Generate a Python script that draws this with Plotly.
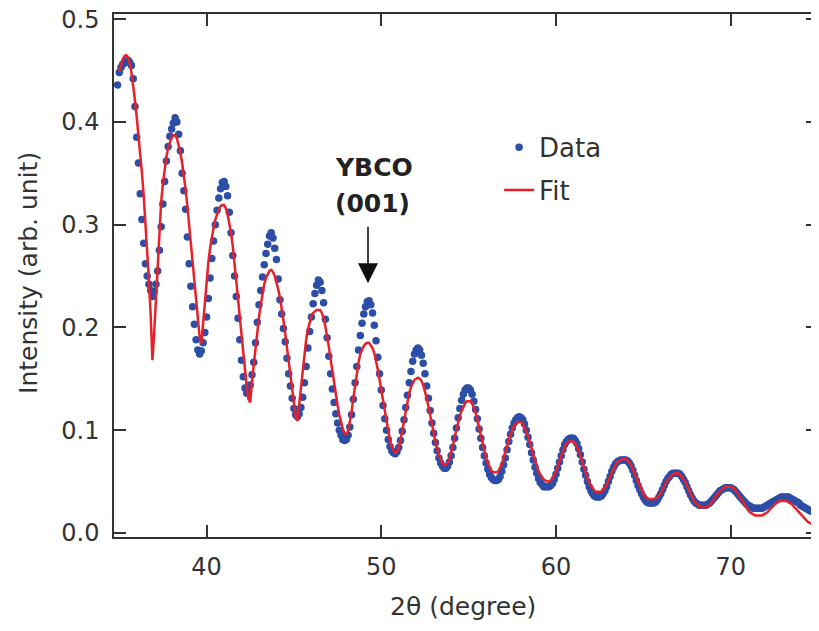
import plotly.graph_objects as go

# 2-theta scan grid (degrees)
data_x_start, data_step = 34.9, 0.1
data_y = [
    0.436, 0.448, 0.453, 0.456, 0.457, 0.459, 0.460, 0.458, 0.455, 0.442,  # 34.9-35.8
    0.415, 0.385, 0.360, 0.330, 0.305, 0.282, 0.262, 0.250, 0.242, 0.236,  # 35.9-36.8
    0.230, 0.235, 0.242, 0.255, 0.275, 0.298, 0.320, 0.342, 0.362, 0.376,  # 36.9-37.8
    0.386, 0.393, 0.399, 0.404, 0.400, 0.388, 0.372, 0.350, 0.333, 0.315,  # 37.9-38.8
    0.288, 0.262, 0.240, 0.220, 0.203, 0.188, 0.178, 0.174, 0.177, 0.185,  # 38.9-39.8
    0.195, 0.210, 0.228, 0.248, 0.267, 0.284, 0.300, 0.314, 0.326, 0.335,  # 39.9-40.8
    0.341, 0.342, 0.337, 0.328, 0.312, 0.292, 0.270, 0.250, 0.230, 0.209,  # 40.9-41.8
    0.188, 0.168, 0.152, 0.141, 0.136, 0.138, 0.144, 0.154, 0.166, 0.185,  # 41.9-42.8
    0.205, 0.222, 0.236, 0.249, 0.261, 0.272, 0.281, 0.289, 0.292, 0.287,  # 42.9-43.8
    0.277, 0.266, 0.247, 0.227, 0.213, 0.199, 0.186, 0.170, 0.155, 0.143,  # 43.9-44.8
    0.131, 0.121, 0.115, 0.113, 0.116, 0.122, 0.132, 0.146, 0.162, 0.180,  # 44.9-45.8
    0.196, 0.210, 0.223, 0.233, 0.241, 0.246, 0.244, 0.236, 0.224, 0.208,  # 45.9-46.8
    0.190, 0.172, 0.155, 0.140, 0.127, 0.116, 0.107, 0.100, 0.095, 0.091,  # 46.9-47.8
    0.090, 0.091, 0.095, 0.103, 0.115, 0.130, 0.146, 0.162, 0.178, 0.192,  # 47.9-48.8
    0.204, 0.213, 0.220, 0.225, 0.226, 0.222, 0.214, 0.202, 0.187, 0.171,  # 48.9-49.8
    0.155, 0.139, 0.124, 0.111, 0.100, 0.091, 0.084, 0.080, 0.078, 0.077,  # 49.9-50.8
    0.079, 0.083, 0.090, 0.099, 0.110, 0.122, 0.134, 0.146, 0.157, 0.167,  # 50.9-51.8
    0.174, 0.178, 0.180, 0.178, 0.173, 0.165, 0.155, 0.143, 0.131, 0.119,  # 51.9-52.8
    0.107, 0.097, 0.088, 0.080, 0.073, 0.068, 0.065, 0.063, 0.063, 0.065,  # 52.9-53.8
    0.069, 0.075, 0.083, 0.092, 0.102, 0.112, 0.121, 0.129, 0.135, 0.139,  # 53.9-54.8
    0.141, 0.141, 0.139, 0.135, 0.128, 0.120, 0.111, 0.101, 0.092, 0.083,  # 54.9-55.8
    0.075, 0.068, 0.062, 0.057, 0.054, 0.052, 0.051, 0.051, 0.052, 0.055,  # 55.9-56.8
    0.060, 0.066, 0.073, 0.081, 0.089, 0.096, 0.102, 0.107, 0.110, 0.112,  # 56.9-57.8
    0.113, 0.112, 0.110, 0.106, 0.100, 0.093, 0.086, 0.078, 0.071, 0.064,  # 57.9-58.8
    0.058, 0.053, 0.049, 0.047, 0.045, 0.045, 0.045, 0.045, 0.046, 0.048,  # 58.9-59.8
    0.052, 0.057, 0.063, 0.069, 0.075, 0.081, 0.086, 0.089, 0.091, 0.092,  # 59.9-60.8
    0.092, 0.092, 0.090, 0.087, 0.082, 0.076, 0.069, 0.062, 0.056, 0.050,  # 60.9-61.8
    0.045, 0.041, 0.038, 0.036, 0.035, 0.035, 0.035, 0.036, 0.038, 0.041,  # 61.9-62.8
    0.045, 0.050, 0.055, 0.060, 0.064, 0.067, 0.069, 0.070, 0.071, 0.071,  # 62.9-63.8
    0.071, 0.071, 0.070, 0.068, 0.065, 0.061, 0.056, 0.051, 0.046, 0.042,  # 63.9-64.8
    0.038, 0.035, 0.032, 0.030, 0.029, 0.029, 0.029, 0.029, 0.030, 0.032,  # 64.9-65.8
    0.035, 0.038, 0.042, 0.046, 0.050, 0.053, 0.055, 0.057, 0.058, 0.058,  # 65.9-66.8
    0.058, 0.058, 0.057, 0.055, 0.052, 0.049, 0.045, 0.041, 0.037, 0.034,  # 66.9-67.8
    0.031, 0.029, 0.028, 0.027, 0.027, 0.027, 0.027, 0.027, 0.028, 0.029,  # 67.9-68.8
    0.031, 0.033, 0.035, 0.037, 0.039, 0.041, 0.042, 0.043, 0.044, 0.044,  # 68.9-69.8
    0.044, 0.044, 0.043, 0.042, 0.040, 0.038, 0.036, 0.034, 0.032, 0.030,  # 69.9-70.8
    0.028, 0.027, 0.026, 0.025, 0.024, 0.024, 0.024, 0.024, 0.024, 0.024,  # 70.9-71.8
    0.025, 0.026, 0.027, 0.028, 0.029, 0.030, 0.031, 0.032, 0.033, 0.034,  # 71.9-72.8
    0.035, 0.035, 0.035, 0.035, 0.035, 0.034, 0.033, 0.032, 0.031, 0.030,  # 72.9-73.8
    0.029, 0.027, 0.026, 0.025, 0.024, 0.023, 0.022, 0.021, 0.021, 0.020,  # 73.9-74.8
    0.020, 0.020,                                                          # 74.9-75.0
]

fit_x_start, fit_step = 35.0, 0.1
fit_y = [
    0.449, 0.456, 0.461, 0.464, 0.465, 0.463, 0.457, 0.448, 0.436, 0.421,  # 35.0-35.9
    0.405, 0.388, 0.370, 0.350, 0.328, 0.303, 0.276, 0.246, 0.212, 0.168,  # 36.0-36.9
    0.195, 0.226, 0.262, 0.298, 0.322, 0.340, 0.354, 0.366, 0.375, 0.381,  # 37.0-37.9
    0.385, 0.387, 0.387, 0.384, 0.378, 0.370, 0.360, 0.348, 0.334, 0.318,  # 38.0-38.9
    0.300, 0.281, 0.262, 0.243, 0.224, 0.206, 0.191, 0.184, 0.205, 0.226,  # 39.0-39.9
    0.246, 0.263, 0.277, 0.288, 0.297, 0.305, 0.311, 0.315, 0.318, 0.319,  # 40.0-40.9
    0.319, 0.316, 0.310, 0.302, 0.292, 0.279, 0.264, 0.247, 0.228, 0.210,  # 41.0-41.9
    0.192, 0.175, 0.158, 0.142, 0.130, 0.127, 0.148, 0.165, 0.180, 0.194,  # 42.0-42.9
    0.210, 0.222, 0.233, 0.242, 0.248, 0.252, 0.255, 0.256, 0.254, 0.250,  # 43.0-43.9
    0.244, 0.237, 0.229, 0.219, 0.207, 0.194, 0.180, 0.166, 0.152, 0.138,  # 44.0-44.9
    0.125, 0.113, 0.109, 0.125, 0.143, 0.160, 0.175, 0.188, 0.198, 0.206,  # 45.0-45.9
    0.211, 0.214, 0.216, 0.217, 0.217, 0.217, 0.214, 0.209, 0.201, 0.192,  # 46.0-46.9
    0.181, 0.169, 0.157, 0.145, 0.134, 0.124, 0.115, 0.107, 0.101, 0.097,  # 47.0-47.9
    0.096, 0.099, 0.107, 0.118, 0.131, 0.144, 0.156, 0.166, 0.174, 0.179,  # 48.0-48.9
    0.182, 0.184, 0.185, 0.185, 0.183, 0.180, 0.175, 0.168, 0.159, 0.149,  # 49.0-49.9
    0.139, 0.128, 0.117, 0.107, 0.098, 0.090, 0.084, 0.080, 0.078, 0.079,  # 50.0-50.9
    0.083, 0.090, 0.099, 0.109, 0.119, 0.128, 0.136, 0.142, 0.146, 0.149,  # 51.0-51.9
    0.150, 0.151, 0.150, 0.148, 0.144, 0.138, 0.131, 0.123, 0.114, 0.105,  # 52.0-52.9
    0.097, 0.089, 0.082, 0.076, 0.071, 0.068, 0.066, 0.066, 0.068, 0.072,  # 53.0-53.9
    0.078, 0.085, 0.093, 0.101, 0.108, 0.114, 0.119, 0.123, 0.126, 0.128,  # 54.0-54.9
    0.128, 0.128, 0.126, 0.122, 0.117, 0.110, 0.102, 0.094, 0.086, 0.079,  # 55.0-55.9
    0.073, 0.068, 0.064, 0.061, 0.059, 0.059, 0.059, 0.060, 0.063, 0.067,  # 56.0-56.9
    0.073, 0.079, 0.085, 0.091, 0.096, 0.100, 0.104, 0.106, 0.108, 0.108,  # 57.0-57.9
    0.108, 0.106, 0.103, 0.099, 0.094, 0.088, 0.082, 0.076, 0.070, 0.065,  # 58.0-58.9
    0.060, 0.057, 0.054, 0.052, 0.051, 0.050, 0.050, 0.051, 0.053, 0.056,  # 59.0-59.9
    0.060, 0.065, 0.070, 0.075, 0.080, 0.084, 0.087, 0.089, 0.089, 0.089,  # 60.0-60.9
    0.089, 0.087, 0.084, 0.080, 0.075, 0.069, 0.063, 0.058, 0.053, 0.049,  # 61.0-61.9
    0.046, 0.043, 0.041, 0.040, 0.040, 0.040, 0.040, 0.042, 0.044, 0.047,  # 62.0-62.9
    0.051, 0.055, 0.059, 0.063, 0.066, 0.069, 0.070, 0.071, 0.072, 0.072,  # 63.0-63.9
    0.072, 0.071, 0.069, 0.066, 0.062, 0.058, 0.053, 0.049, 0.045, 0.041,  # 64.0-64.9
    0.038, 0.036, 0.034, 0.033, 0.033, 0.033, 0.033, 0.033, 0.034, 0.036,  # 65.0-65.9
    0.039, 0.042, 0.046, 0.049, 0.052, 0.054, 0.056, 0.057, 0.058, 0.058,  # 66.0-66.9
    0.058, 0.057, 0.055, 0.053, 0.050, 0.046, 0.042, 0.038, 0.034, 0.031,  # 67.0-67.9
    0.029, 0.027, 0.026, 0.025, 0.025, 0.025, 0.025, 0.026, 0.027, 0.029,  # 68.0-68.9
    0.031, 0.034, 0.037, 0.039, 0.041, 0.043, 0.044, 0.045, 0.045, 0.045,  # 69.0-69.9
    0.045, 0.044, 0.043, 0.041, 0.039, 0.036, 0.033, 0.030, 0.027, 0.024,  # 70.0-70.9
    0.022, 0.020, 0.019, 0.018, 0.017, 0.017, 0.017, 0.017, 0.017, 0.018,  # 71.0-71.9
    0.019, 0.020, 0.022, 0.024, 0.026, 0.027, 0.029, 0.030, 0.031, 0.031,  # 72.0-72.9
    0.031, 0.031, 0.031, 0.030, 0.029, 0.028, 0.026, 0.024, 0.022, 0.020,  # 73.0-73.9
    0.018, 0.016, 0.014, 0.013, 0.011, 0.010, 0.009, 0.008, 0.008, 0.007,  # 74.0-74.9
    0.007,                                                                 # 75.0
]

data_x = [round(data_x_start + i * data_step, 2) for i in range(len(data_y))]
fit_x = [round(fit_x_start + i * fit_step, 2) for i in range(len(fit_y))]

x_ticks = [40, 50, 60, 70]
y_ticks = [0.0, 0.1, 0.2, 0.3, 0.4, 0.5]
y_tick_text = ["0.0", "0.1", "0.2", "0.3", "0.4", "0.5"]

BLUE = "#2C4EA6"
RED = "#E8202A"
AX = "#333333"
FONT = "DejaVu Sans, Verdana, sans-serif"

fig = go.Figure()
fig.add_trace(go.Scatter(
    x=data_x, y=data_y, mode="markers", name="Data", legendgroup="a",
    marker=dict(color=BLUE, size=7.5, line=dict(width=0)),
))
fig.add_trace(go.Scatter(
    x=fit_x, y=fit_y, mode="lines", name="Fit", legendgroup="b",
    line=dict(color=RED, width=2.5),
))

axis_common = dict(
    showline=True, linecolor=AX, linewidth=1.5, mirror="ticks",
    ticks="inside", ticklen=12, tickwidth=1.5, tickcolor=AX,
    showgrid=False, zeroline=False, automargin=False,
    ticklabeloverflow="allow",
    tickfont=dict(family=FONT, size=24, color=AX),
)

fig.update_layout(
    width=811, height=623,
    margin=dict(l=106, r=1, t=6, b=94),
    paper_bgcolor="white", plot_bgcolor="white",
    font=dict(family=FONT, color=AX),
    xaxis=dict(range=[34.7, 75.0], tickvals=x_ticks, ticklabelstandoff=7, **axis_common),
    yaxis=dict(range=[-0.004, 0.505], tickvals=y_ticks, ticktext=y_tick_text,
               ticklabelstandoff=8, **axis_common),
    legend=dict(x=0.547, y=0.79, xanchor="left", yanchor="top", tracegroupgap=6,
                font=dict(family=FONT, size=26, color=AX), bgcolor="rgba(0,0,0,0)",
                itemwidth=30),
    showlegend=True,
)

# axis titles
fig.add_annotation(x=0.496, y=-0.132, xref="paper", yref="paper", showarrow=False,
                   text="2θ (degree)", xanchor="center", yanchor="middle",
                   font=dict(family=FONT, size=25, color=AX))
fig.add_annotation(x=-0.1207, y=0.505, xref="paper", yref="paper", showarrow=False,
                   text="Intensity (arb. unit)", textangle=-90, xanchor="center", yanchor="middle",
                   font=dict(family=FONT, size=25, color=AX))

# YBCO (001) label and arrow
fig.add_annotation(
    x=49.24, y=0.243, xref="x", yref="y", ax=0, ay=-58, axref="pixel", ayref="pixel",
    showarrow=True, arrowhead=2, arrowsize=2.5, arrowwidth=1.6, arrowcolor="#111111", text="",
)
fig.add_annotation(x=47.24, y=0.356, xref="x", yref="y", showarrow=False, text="<b>YBCO</b>",
                   xanchor="left", yanchor="middle", font=dict(family=FONT, size=25, color="#222222"))
fig.add_annotation(x=47.24, y=0.321, xref="x", yref="y", showarrow=False, text="<b>(001)</b>",
                   xanchor="left", yanchor="middle", font=dict(family=FONT, size=25, color="#222222"))

fig.write_html("out.html")
